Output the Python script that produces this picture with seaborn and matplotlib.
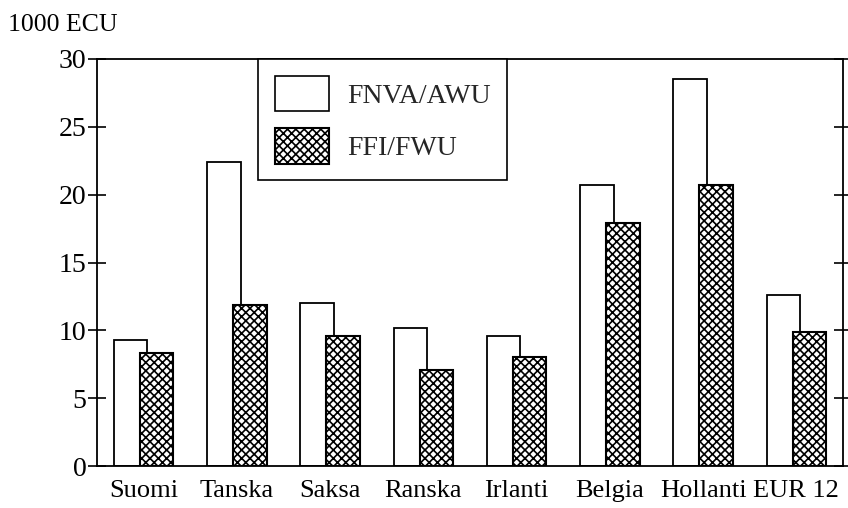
import matplotlib
matplotlib.use("Agg")
import matplotlib.pyplot as plt
import seaborn as sns
import pandas as pd
from matplotlib.patches import Patch

categories = ["Suomi", "Tanska", "Saksa", "Ranska", "Irlanti", "Belgia", "Hollanti", "EUR 12"]
fnva_awu = [9.3, 22.4, 12.0, 10.2, 9.6, 20.7, 28.5, 12.6]
ffi_fwu = [8.3, 11.9, 9.6, 7.1, 8.0, 17.9, 20.7, 9.9]
series_names = ["FNVA/AWU", "FFI/FWU"]
yticks = [0, 5, 10, 15, 20, 25, 30]

sns.set_theme(style="white")
plt.rcParams["font.family"] = ["Liberation Serif", "DejaVu Serif"]
plt.rcParams["hatch.linewidth"] = 1.2

HATCH = "xxxx"

df1 = pd.DataFrame({"cat": categories, "val": fnva_awu})
df2 = pd.DataFrame({"cat": categories, "val": ffi_fwu})

fig = plt.figure(figsize=(8.48, 5.08), dpi=100)
ax = fig.add_axes([97/848, 1-466/508, (843-97)/848, (466-59)/508])

bw = 0.36
off = 0.14
sns.barplot(data=df1, x="cat", y="val", ax=ax, color="white", edgecolor="black",
            linewidth=1.3, width=bw, errorbar=None, saturation=1)
n1 = len(ax.patches)
for p in ax.patches[:n1]:
    p.set_x(p.get_x() - off)
sns.barplot(data=df2, x="cat", y="val", ax=ax, color="white", edgecolor="black",
            linewidth=1.5, width=bw, errorbar=None, saturation=1, hatch=HATCH)
for p in ax.patches[n1:]:
    p.set_x(p.get_x() + off)
    p.set_hatch(HATCH)
    p.set_edgecolor("black")
    p.set_facecolor("white")

ax.set_xlim(-0.5, len(categories) - 0.5)
ax.set_ylim(0, 30)
ax.set_yticks(yticks)
ax.set_yticklabels([str(t) for t in yticks])
ax.set_xlabel("")
ax.set_ylabel("")

for s in ax.spines.values():
    s.set_visible(True)
    s.set_color("black")
    s.set_linewidth(1.3)

ax.tick_params(axis="y", which="both", direction="inout", length=13, width=1.2,
               left=True, right=True, labelleft=True, labelright=False,
               labelsize=20, pad=1, colors="black")
ax.tick_params(axis="x", length=0, labelsize=19, pad=10, colors="black")

handles = [Patch(facecolor="white", edgecolor="black", linewidth=1.2),
           Patch(facecolor="white", edgecolor="black", linewidth=1.5, hatch=HATCH)]
leg = ax.legend(handles, series_names, loc="upper left",
                bbox_to_anchor=((258-97)/746, 1.0), fontsize=20,
                frameon=True, fancybox=False, edgecolor="black", framealpha=1,
                handlelength=1.95, handleheight=1.6, labelspacing=0.6,
                handletextpad=0.65, borderpad=0.6, borderaxespad=0)
leg.get_frame().set_linewidth(1.2)

fig.text(8/848, 1-31/508, "1000 ECU", fontsize=18.5, va="baseline", ha="left",
         color="black")

fig.savefig("out.png", dpi=100)
